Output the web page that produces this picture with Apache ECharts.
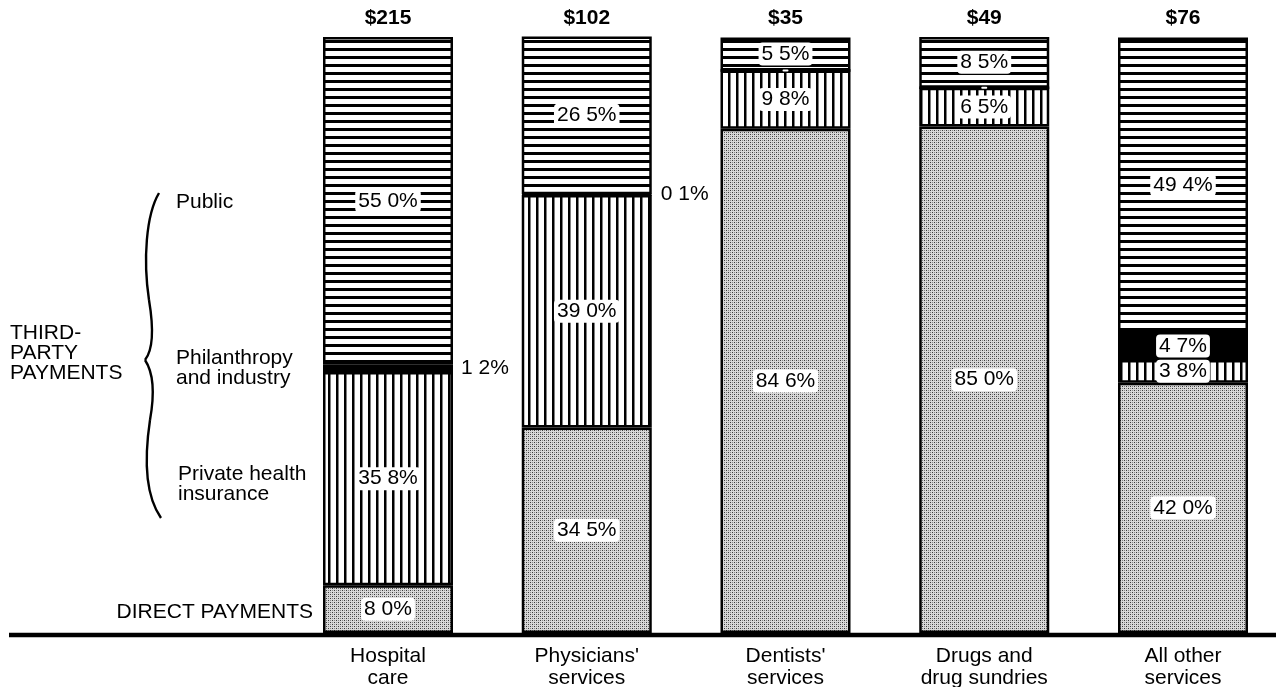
<!DOCTYPE html>
<html>
<head>
<meta charset="utf-8">
<script src="https://cdn.jsdelivr.net/npm/echarts@6/dist/echarts.min.js"></script>
<style>
  html, body { margin: 0; padding: 0; background: #fff; }
  #chart { width: 1276px; height: 687px; }
</style>
</head>
<body>
<div id="chart"></div>
<script>
// Share of expenditures by source of payment, per type of service
const categories = ['Hospital\ncare', "Physicians'\nservices", "Dentists'\nservices", 'Drugs and\ndrug sundries', 'All other\nservices'];
const totals = ['$215', '$102', '$35', '$49', '$76'];
const directPay = [8.0, 34.5, 84.6, 85.0, 42.0];
const privateIns = [35.8, 39.0, 9.8, 6.5, 3.8];
const philanthropy = [1.2, 0.1, 0, 0, 4.7];
const publicPay = [55.0, 26.5, 5.5, 8.5, 49.4];

const FONT = '"Liberation Sans", Arial, sans-serif';
// first and last category sit on the grid edges (boundaryGap false)
const GRID = { left: 388, right: 93, top: 37, height: 596, outerBoundsMode: 'none' };

// fill patterns drawn on small canvases
function makePattern(w, h, draw) {
  const c = document.createElement('canvas');
  c.width = w; c.height = h;
  const ctx = c.getContext('2d');
  draw(ctx);
  return { image: c, repeat: 'repeat' };
}
const hStripes = makePattern(8, 8, (ctx) => {
  ctx.fillStyle = '#fff'; ctx.fillRect(0, 0, 8, 8);
  ctx.fillStyle = '#000'; ctx.fillRect(0, 0, 8, 3);
});
const vStripes = makePattern(8, 8, (ctx) => {
  ctx.fillStyle = '#fff'; ctx.fillRect(0, 0, 8, 8);
  ctx.fillStyle = '#000'; ctx.fillRect(0, 0, 2.5, 8);
});
const dots = makePattern(4, 4, (ctx) => {
  ctx.fillStyle = '#d8d8d8'; ctx.fillRect(0, 0, 4, 4);
  ctx.fillStyle = '#3a3a3a'; ctx.fillRect(0, 0, 1, 1); ctx.fillRect(2, 2, 1, 1);
  ctx.fillStyle = '#888'; ctx.fillRect(2, 0, 1, 1); ctx.fillRect(0, 2, 1, 1);
});

const pct = (v) => v.toFixed(1).replace('.', ' ') + '%';

const insideLabel = {
  show: true,
  position: 'inside',
  color: '#000',
  fontFamily: FONT,
  fontSize: 21,
  backgroundColor: '#fff',
  padding: [1, 3],
  borderRadius: 4,
  formatter: (p) => (p.value > 0 ? pct(p.value) : ''),
};

function seriesData(values) {
  return values.map((v) => {
    if (v > 0 && v < 2) {
      return { value: v, label: { position: 'right', distance: 8, backgroundColor: 'transparent', padding: 0 } };
    }
    return v;
  });
}

function barSeries(name, values, fill) {
  return {
    name,
    type: 'bar',
    stack: 'total',
    barWidth: 130,
    data: seriesData(values),
    itemStyle: { color: fill, borderColor: '#000', borderWidth: 2.5 },
    label: insideLabel,
    emphasis: { disabled: true },
  };
}

const chart = echarts.init(document.getElementById('chart'), null, { renderer: 'canvas' });

const textStyle = { fill: '#000', font: '21px ' + FONT, textVerticalAlign: 'middle', lineHeight: 20 };

// curly brace next to the third-party labels
const braceCurves = [
  [159, 193, 146, 215, 143, 260, 149, 300],
  [149, 300, 154, 330, 153, 350, 145, 360],
  [145, 360, 153, 372, 155, 392, 150, 420],
  [150, 420, 144, 460, 145, 495, 161, 518],
].map(([x1, y1, cpx1, cpy1, cpx2, cpy2, x2, y2]) => ({
  type: 'bezierCurve',
  shape: { x1, y1, cpx1, cpy1, cpx2, cpy2, x2, y2 },
  style: { stroke: '#000', lineWidth: 2.4, fill: null },
}));

const baseY = GRID.top + GRID.height + 2;

const option = {
  animation: false,
  grid: GRID,
  xAxis: [
    {
      type: 'category',
      data: categories,
      boundaryGap: false,
      axisLine: { show: false },
      axisTick: { show: false },
      axisLabel: { color: '#000', fontFamily: FONT, fontSize: 21, lineHeight: 22, margin: 12, interval: 0 },
    },
    {
      type: 'category',
      position: 'top',
      data: totals,
      boundaryGap: false,
      axisLine: { show: false },
      axisTick: { show: false },
      axisLabel: { color: '#000', fontFamily: FONT, fontSize: 21, fontWeight: 'bold', margin: 8, interval: 0 },
    },
  ],
  yAxis: { type: 'value', min: 0, max: 100, show: false, splitLine: { show: false } },
  series: [
    barSeries('Direct payments', directPay, dots),
    barSeries('Private health insurance', privateIns, vStripes),
    barSeries('Philanthropy and industry', philanthropy, '#000'),
    barSeries('Public', publicPay, hStripes),
  ],
  graphic: [
    {
      type: 'line',
      shape: { x1: 9, y1: baseY, x2: 1276, y2: baseY },
      style: { stroke: '#000', lineWidth: 4.5 },
      z: 10,
    },
    { type: 'text', style: Object.assign({ text: 'Public', x: 176, y: 202 }, textStyle) },
    { type: 'text', style: Object.assign({ text: 'Philanthropy\nand industry', x: 176, y: 368 }, textStyle) },
    { type: 'text', style: Object.assign({ text: 'Private health\ninsurance', x: 178, y: 484 }, textStyle) },
    { type: 'text', style: Object.assign({ text: 'THIRD-\nPARTY\nPAYMENTS', x: 10, y: 353 }, textStyle) },
    { type: 'text', style: Object.assign({ text: 'DIRECT PAYMENTS', x: 313, y: 612, textAlign: 'right' }, textStyle) },
  ].concat(braceCurves),
};

chart.setOption(option);
</script>
</body>
</html>
